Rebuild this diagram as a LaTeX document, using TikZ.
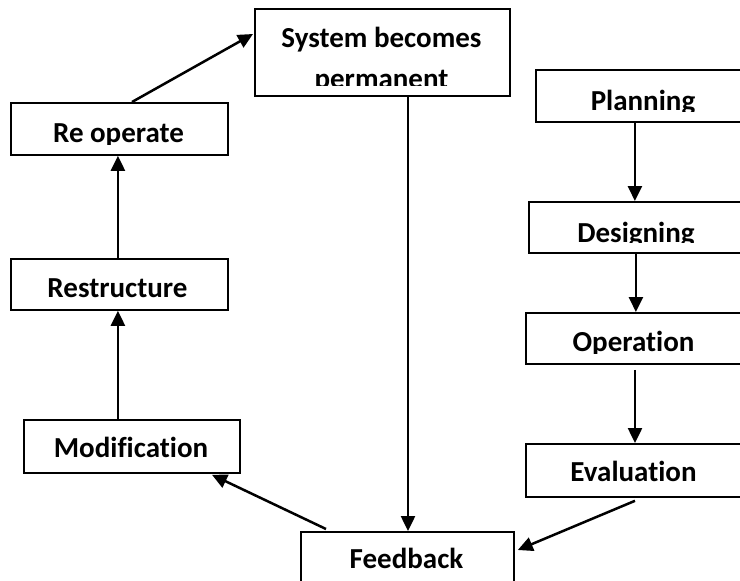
\documentclass[tikz,border=0pt]{standalone}
\usepackage{fontspec}
\setmainfont{Carlito}[Ligatures=NoCommon]
\usetikzlibrary{arrows.meta,calc}
\tikzset{
  box/.style={draw, line width=1.8pt, inner sep=0pt, anchor=north west},
  lbl/.style={font=\bfseries\fontsize{29}{41.5}\selectfont, anchor=base, inner sep=0pt, align=center},
  conn/.style={line width=2.5pt, -{Triangle[length=15pt,width=14pt]}},
}
\newcommand\boxtext[4]{%
  \begin{scope}
    \clip (#1.north west) rectangle ([yshift=11pt]#1.south east);
    \node[lbl] (#1-t) at (#2,#3) {#4};
  \end{scope}}
\begin{document}
\begin{tikzpicture}[x=1pt,y=-1pt]
\useasboundingbox (0,0) rectangle (740,581);
\clip (0,0) rectangle (740,581);
% boxes
\node[box, minimum width=255pt, minimum height=87pt] (sys) at (254,8) {};
\node[box, minimum width=217pt, minimum height=52pt] (reop) at (10,102) {};
\node[box, minimum width=217pt, minimum height=51pt] (restr) at (10,258) {};
\node[box, minimum width=216pt, minimum height=53pt] (mod) at (23,419) {};
\node[box, minimum width=217pt, minimum height=52pt] (plan) at (535,69) {};
\node[box, minimum width=217pt, minimum height=51pt] (des) at (528,201) {};
\node[box, minimum width=217pt, minimum height=51pt] (oper) at (525,312) {};
\node[box, minimum width=217pt, minimum height=53pt] (eval) at (525,443) {};
\node[box, minimum width=213pt, minimum height=52pt] (fb) at (300,531) {};
% texts (multi-line node: base anchor is on the last line)
\boxtext{sys}{381.5}{88.5}{System becomes\\permanent}
\boxtext{reop}{118.5}{142.5}{Re operate}
\boxtext{restr}{117.5}{297}{Restructure}
\boxtext{mod}{131}{457}{Modification}
\boxtext{plan}{643}{110}{Planning}
\boxtext{des}{636}{242}{Designing}
\boxtext{oper}{633.5}{351.5}{Operation}
\boxtext{eval}{633.5}{481.5}{Evaluation}
\boxtext{fb}{406.5}{568}{Feedback}
% connectors
\draw[conn] ([xshift=-1.5pt]restr.north) -- ([xshift=-1.5pt]reop.south);
\draw[conn] ([xshift=-1.5pt]mod.north -| restr.south) -- ([xshift=-1.5pt]restr.south);
\draw[conn] ($(reop.north west)+(122,0)$) -- ($(sys.north west)+(-1,26)$);
\draw[conn] ($(sys.south west)+(154,0)$) -- ($(fb.north west)+(108,0)$);
\draw[conn] ([xshift=-9.5pt]plan.south) -- ([xshift=-9.5pt]plan.south |- des.north);
\draw[conn] ([xshift=-1.5pt]des.south) -- ([xshift=-1.5pt]oper.north -| des.south);
\draw[conn] ($(oper.south west)+(110,5)$) -- ($(eval.north west)+(110,0)$);
\draw[conn] ($(eval.south west)+(110,3)$) -- ($(fb.north east)+(3,19)$);
\draw[conn] ($(fb.north west)+(26,-2)$) -- ($(mod.south west)+(189,1)$);
\end{tikzpicture}
\end{document}
